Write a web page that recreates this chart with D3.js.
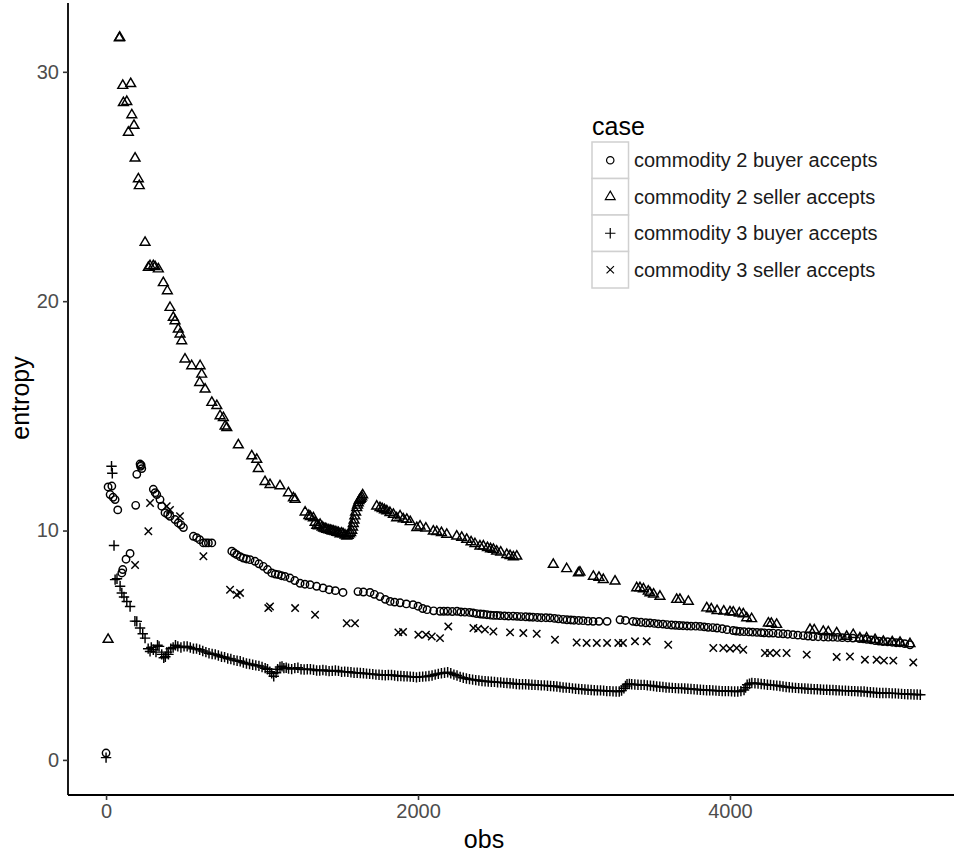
<!DOCTYPE html>
<html>
<head>
<meta charset="utf-8">
<script src="https://cdn.jsdelivr.net/npm/d3@7"></script>
<style>
  body { margin: 0; background: #fff; }
  svg { display: block; font-family: "Liberation Sans", Arial, sans-serif; }
</style>
</head>
<body>
<div id="chart"></div>
<script>
// categories (legend order)
const cases = [
  "commodity 2 buyer accepts",
  "commodity 2 seller accepts",
  "commodity 3 buyer accepts",
  "commodity 3 seller accepts"
];

// tick values
const xTicks = [0, 2000, 4000];
const yTicks = [0, 10, 20, 30];

// [obs, entropy]
const c2Buyer = [
  [0,0.3],[13,11.9],[26,11.57],[37,11.94],[45,11.45],[58,11.35],[75,10.9],[101,8.15],[107,8.3],[128,8.75],[154,9.0],
  [190,11.1],[197,12.45],[218,12.9],[221,12.8],[229,12.7],[225,12.85],
  [303,11.8],[315,11.65],[325,11.57],[346,11.35],[357,11.06],[378,10.78],[395,10.7],[410,10.62],[442,10.48],[463,10.33],
  [480,10.25],[496,10.13],[560,9.75],[581,9.69],[600,9.6],[624,9.46],[640,9.46],[656,9.46],[678,9.46],
  [806,9.1],[822,9.02],[838,8.95],[860,8.86],[880,8.8],[900,8.76],[923,8.73],[955,8.66],[980,8.55],[1008,8.44],[1035,8.3],
  [1062,8.15],[1085,8.1],[1105,8.08],[1125,8.03],[1147,8.0],[1179,7.93],[1210,7.82],[1244,7.7],[1275,7.66],[1308,7.64],
  [1350,7.57],[1391,7.5],[1430,7.42],[1470,7.38],[1519,7.3],
  [1615,7.34],[1650,7.32],[1692,7.3],[1720,7.22],[1756,7.12],[1790,7.0],[1821,6.91],[1850,6.88],[1885,6.85],[1925,6.8],[1968,6.77],
  [2000,6.7],[2030,6.6],
  [2058,6.55],[2100,6.5],[2141,6.48],[2165,6.48],[2190,6.48],[2220,6.47],[2250,6.48],[2275,6.45],[2300,6.44],[2330,6.43],
  [2353,6.41],[2375,6.38],[2400,6.36],[2420,6.35],[2442,6.33],[2465,6.31],[2485,6.3],[2505,6.3],[2526,6.29],[2555,6.28],
  [2580,6.27],[2610,6.27],[2635,6.26],[2660,6.25],[2690,6.24],[2715,6.23],[2737,6.22],[2765,6.21],[2790,6.2],[2820,6.2],
  [2846,6.19],[2875,6.17],[2900,6.15],[2930,6.13],[2955,6.11],[2980,6.1],[3000,6.09],[3030,6.08],
  [3058,6.07],[3090,6.05],[3122,6.04],[3160,6.04],[3212,6.04],
  [3295,6.11],[3330,6.08],[3378,6.04],[3400,6.02],[3430,6.0],[3460,5.98],[3487,5.97],[3515,5.95],[3540,5.93],[3570,5.92],
  [3596,5.9],[3625,5.88],[3650,5.87],[3675,5.86],[3699,5.85],[3725,5.84],[3750,5.83],[3780,5.83],[3808,5.82],[3835,5.8],
  [3860,5.78],[3890,5.77],[3917,5.75],[3950,5.72],[3981,5.68],[4020,5.64],[4040,5.62],[4064,5.6],[4090,5.59],[4120,5.58],
  [4145,5.57],[4173,5.56],[4200,5.55],[4220,5.54],[4250,5.53],[4276,5.53],[4310,5.51],[4340,5.5],[4370,5.48],[4404,5.46],
  [4435,5.44],[4470,5.42],[4500,5.4],[4532,5.38],[4565,5.37],[4600,5.36],[4630,5.35],[4660,5.35],[4690,5.34],[4720,5.33],
  [4755,5.32],[4788,5.31],[4830,5.29],[4855,5.28],[4878,5.26],[4905,5.23],[4930,5.2],[4955,5.18],[4981,5.16],[5010,5.15],
  [5040,5.13],[5065,5.11],[5090,5.1],[5120,5.07],[5154,5.02]
];

const c2Seller = [
  [13,5.25],[85,31.47],[88,31.5],[107,29.4],[158,29.48],[111,28.65],[133,28.7],[165,28.12],[179,27.66],[143,27.36],
  [186,26.23],[207,25.33],[213,25.03],[250,22.56],[271,21.47],[282,21.54],[303,21.54],[314,21.5],[335,21.4],[367,20.8],
  [393,20.45],[410,19.72],[431,19.29],[442,19.14],[463,18.78],[474,18.56],[485,18.27],[506,17.47],[549,17.18],[603,17.18],
  [613,16.81],[600,16.45],[635,16.16],[678,15.58],[710,15.44],[731,15.0],[752,14.92],[763,14.55],[774,14.48],[848,13.73],
  [934,13.25],[966,13.1],[976,12.7],[1019,12.13],[1051,12.0],[1115,11.94],[1169,11.64],[1201,11.42],[1212,11.35],[1276,10.8],
  [1300,10.65],[1310,10.6],[1329,10.55],[1340,10.35],[1351,10.22],[1362,10.2],[1372,10.26],[1385,10.15],[1395,10.1],
  [1405,10.08],[1415,10.05],[1428,10.02],[1440,10.0],[1448,9.98],[1457,9.97],[1468,9.95],[1480,9.92],[1490,9.9],[1500,9.85],
  [1510,9.88],[1520,9.85],[1532,9.8],[1543,9.75],[1552,9.78],[1560,9.85],[1568,9.9],[1575,10.0],[1580,10.15],[1585,10.3],
  [1590,10.45],[1595,10.63],[1600,10.8],[1607,10.99],[1612,11.1],[1617,11.2],[1622,11.3],[1628,11.35],[1633,11.4],[1639,11.46],
  [1645,11.55],
  [1735,11.06],[1756,10.99],[1770,10.95],[1785,10.9],[1800,10.85],[1820,10.78],[1842,10.7],[1863,10.55],[1885,10.63],[1905,10.5],
  [1928,10.48],[1950,10.38],[1992,10.12],[2013,10.19],[2050,10.1],[2098,9.97],[2120,9.95],[2150,9.9],[2184,9.83],[2248,9.75],
  [2280,9.7],[2312,9.61],[2340,9.5],[2365,9.42],[2397,9.32],[2419,9.32],[2445,9.25],[2465,9.2],[2483,9.17],[2504,9.1],
  [2530,9.05],[2569,8.95],[2590,8.9],[2611,8.85],[2633,8.88],
  [2867,8.52],[2953,8.33],[3028,8.15],[3038,8.18],[3124,8.0],[3160,7.95],[3188,7.86],[3263,7.79],[3402,7.5],[3423,7.5],
  [3445,7.45],[3476,7.35],[3487,7.28],[3510,7.22],[3551,7.13],[3658,6.99],[3679,6.99],[3733,6.91],[3851,6.62],[3880,6.58],
  [3917,6.5],[3960,6.48],[4000,6.45],[4021,6.44],[4060,6.4],[4085,6.36],[4107,6.19],[4139,6.15],[4246,5.96],[4265,5.95],
  [4299,5.9],[4513,5.68],[4540,5.66],[4598,5.6],[4630,5.58],[4684,5.53],[4748,5.38],[4790,5.46],[4833,5.31],[4876,5.31],
  [4930,5.24],[4983,5.16],[5040,5.14],[5090,5.12],[5154,5.06]
];

const c3Buyer = [
  [0,0.1],[35,12.8],[40,12.5],[51,9.35],[58,7.86],[70,7.9],[90,7.57],[101,7.28],[115,7.1],[133,6.91],[154,6.69],[185,6.05],
  [197,6.04],[218,5.75],[235,5.5],[250,5.31],[270,4.85],[282,4.73],[290,4.9],[303,4.8],[320,4.7],[330,5.0],[340,4.95],
  [357,4.6],[370,4.45],[380,4.5],[390,4.7],[400,4.6],[415,4.85],[430,4.9],[445,5.0],[460,4.95],[480,4.9],[500,4.95],
  [520,4.95],[540,4.9],[560,4.85],[580,4.85],[600,4.8],[620,4.75],[640,4.7],[660,4.65],[680,4.62],[700,4.6],[720,4.55],
  [740,4.5],[760,4.48],[780,4.42],[800,4.4],[820,4.35],[840,4.32],[860,4.3],[880,4.25],[900,4.2],[920,4.18],[940,4.15],
  [960,4.12],[980,4.1],[1000,4.05],[1020,4.0],[1035,3.95],[1050,3.85],[1062,3.78],[1075,3.65],[1090,3.8],[1100,3.95],
  [1115,4.05],[1128,4.08],[1140,4.0],[1155,4.02],[1170,3.98],[1190,3.96],[1210,4.0],[1230,4.02],[1250,3.95],[1270,3.94],
  [1290,3.95],[1310,3.95],[1330,3.93],[1350,3.9],[1370,3.9],[1390,3.92],[1410,3.9],[1430,3.87],[1450,3.88],[1470,3.9],
  [1490,3.88],[1510,3.84],[1530,3.85],[1550,3.84],[1570,3.82],[1590,3.8],[1610,3.8],[1630,3.79],[1650,3.78],[1670,3.76],
  [1690,3.75],[1710,3.74],[1730,3.72],[1750,3.71],[1770,3.7],[1790,3.69],[1810,3.7],[1830,3.7],[1850,3.68],[1870,3.66],
  [1890,3.66],[1910,3.65],[1930,3.64],[1950,3.63],[1970,3.62],[1990,3.6],[2010,3.62],[2030,3.63],[2050,3.64],[2070,3.66],
  [2090,3.68],[2110,3.72],[2130,3.75],[2150,3.78],[2170,3.8],[2190,3.82],[2210,3.78],[2230,3.72],[2250,3.68],[2270,3.62],
  [2290,3.58],[2310,3.55],[2330,3.52],[2350,3.5],[2370,3.48],[2390,3.46],[2410,3.44],[2430,3.43],[2450,3.42],[2470,3.41],
  [2490,3.4],[2510,3.38],[2530,3.38],[2550,3.36],[2570,3.35],[2590,3.34],[2610,3.33],[2630,3.31],[2650,3.3],[2670,3.3],
  [2690,3.3],[2710,3.29],[2730,3.28],[2750,3.27],[2770,3.26],[2790,3.25],[2810,3.25],[2830,3.23],[2850,3.22],[2870,3.21],
  [2890,3.2],[2910,3.18],[2930,3.16],[2950,3.15],[2970,3.14],[2990,3.12],[3010,3.1],[3030,3.09],[3050,3.08],[3070,3.07],
  [3090,3.06],[3110,3.05],[3130,3.04],[3150,3.03],[3170,3.03],[3190,3.02],[3210,3.0],[3230,3.0],[3250,2.99],[3270,2.98],
  [3290,2.98],[3305,3.02],[3320,3.12],[3330,3.22],[3340,3.3],[3355,3.31],[3370,3.3],[3390,3.29],[3410,3.28],[3430,3.27],
  [3450,3.27],[3470,3.25],[3490,3.24],[3510,3.22],[3530,3.2],[3550,3.19],[3570,3.18],[3590,3.16],[3610,3.15],[3630,3.14],
  [3650,3.13],[3670,3.12],[3690,3.12],[3710,3.11],[3730,3.1],[3750,3.09],[3770,3.08],[3790,3.07],[3810,3.06],[3830,3.05],
  [3850,3.04],[3870,3.04],[3890,3.03],[3910,3.02],[3930,3.01],[3950,3.0],[3970,3.0],[3990,3.0],[4010,2.99],[4030,2.98],
  [4050,2.98],[4070,3.0],[4090,3.05],[4100,3.15],[4110,3.28],[4125,3.32],[4140,3.35],[4160,3.34],[4180,3.33],[4200,3.31],
  [4220,3.3],[4240,3.28],[4260,3.27],[4280,3.25],[4300,3.24],[4320,3.22],[4340,3.2],[4360,3.18],[4380,3.17],[4400,3.15],
  [4420,3.14],[4440,3.13],[4460,3.12],[4480,3.11],[4500,3.1],[4520,3.09],[4540,3.08],[4560,3.08],[4580,3.07],[4600,3.06],
  [4620,3.06],[4640,3.05],[4660,3.05],[4680,3.04],[4700,3.03],[4720,3.02],[4740,3.02],[4760,3.01],[4780,3.0],[4800,3.0],
  [4820,2.99],[4840,2.98],[4860,2.98],[4880,2.96],[4900,2.95],[4920,2.94],[4940,2.93],[4960,2.92],[4980,2.92],[5000,2.92],
  [5020,2.91],[5040,2.9],[5060,2.9],[5080,2.89],[5100,2.88],[5120,2.87],[5140,2.86],[5160,2.86],[5180,2.85],[5200,2.85],
  [5220,2.84]
];

const c3Seller = [
  [186,8.5],[271,9.97],[282,11.2],[389,11.06],[410,10.9],[474,10.63],[624,8.88],[795,7.42],[838,7.2],[859,7.28],
  [1040,6.62],[1051,6.69],[1212,6.62],[1340,6.33],[1543,5.96],[1596,5.96],[1874,5.56],[1904,5.58],[2002,5.46],[2051,5.46],
  [2088,5.38],[2141,5.31],[2194,5.82],[2355,5.75],[2385,5.72],[2429,5.68],[2483,5.6],[2590,5.56],[2675,5.53],[2761,5.5],
  [2878,5.24],[3017,5.12],[3081,5.1],[3146,5.1],[3212,5.1],[3284,5.1],[3314,5.1],[3391,5.17],[3466,5.17],[3604,5.02],
  [3893,4.88],[3957,4.88],[4000,4.85],[4043,4.88],[4085,4.8],[4224,4.66],[4256,4.66],[4299,4.66],[4363,4.66],[4492,4.59],
  [4684,4.49],[4769,4.51],[4865,4.37],[4940,4.37],[4987,4.33],[5047,4.33],[5175,4.25]
];

const seriesValues = [c2Buyer, c2Seller, c3Buyer, c3Seller];

//---------------------------------------------------------------------------------------

const width = 954;
const height = 854;

const svg = d3.select("#chart")
  .append("svg")
  .attr("width", width)
  .attr("height", height);

const x = d3.scaleLinear().domain([-244, 5481]).range([68, 961]);
const y = d3.scaleLinear().domain([-1.53, 33.0]).range([795, 3]);

// point shapes (open circle, open triangle, plus, cross)
const shapeScale = d3.scaleOrdinal().domain(cases).range(["circle", "triangle", "plus", "cross"]);

function drawShape(sel, kind) {
  if (kind === "circle") {
    sel.append("circle").attr("r", 3.7);
  } else if (kind === "triangle") {
    sel.append("path").attr("d", "M0,-5.6L4.9,2.8L-4.9,2.8Z");
  } else if (kind === "plus") {
    sel.append("path").attr("d", "M-5.2,0H5.2M0,-5.2V5.2");
  } else {
    sel.append("path").attr("d", "M-3.7,-3.7L3.7,3.7M-3.7,3.7L3.7,-3.7");
  }
}

// points
const plot = svg.append("g");
cases.forEach((c, i) => {
  const g = plot.append("g")
    .attr("fill", "none")
    .attr("stroke", "#000")
    .attr("stroke-width", 1.45);
  g.selectAll("g")
    .data(seriesValues[i])
    .join("g")
    .attr("transform", d => `translate(${x(d[0])},${y(d[1])})`)
    .each(function () { drawShape(d3.select(this), shapeScale(c)); });
});

// axes
const xAxis = svg.append("g")
  .attr("transform", "translate(0,795)")
  .call(d3.axisBottom(x).tickValues(xTicks).tickSize(5).tickPadding(4).tickFormat(d3.format("d")));
const yAxis = svg.append("g")
  .attr("transform", "translate(68,0)")
  .call(d3.axisLeft(y).tickValues(yTicks).tickSize(5).tickPadding(4));

[xAxis, yAxis].forEach(a => {
  a.select(".domain").attr("stroke", "#000").attr("stroke-width", 1.8);
  a.selectAll(".tick line").attr("stroke", "#333").attr("stroke-width", 1.6);
  a.selectAll(".tick text")
    .attr("fill", "#4d4d4d")
    .attr("font-size", 20)
    .attr("font-family", "Liberation Sans, Arial, sans-serif");
});
xAxis.select(".domain").attr("d", "M68,0H961");
yAxis.select(".domain").attr("d", "M0,3V795");

// axis titles
svg.append("text")
  .attr("x", 484).attr("y", 848)
  .attr("text-anchor", "middle")
  .attr("font-size", 25)
  .text("obs");

svg.append("text")
  .attr("transform", "translate(29,398) rotate(-90)")
  .attr("text-anchor", "middle")
  .attr("font-size", 25)
  .text("entropy");

// legend
const legend = svg.append("g").attr("transform", "translate(592,142)");
legend.append("text")
  .attr("x", 0).attr("y", -7)
  .attr("font-size", 25)
  .text("case");

const keys = legend.selectAll(".key")
  .data(cases)
  .join("g")
  .attr("class", "key")
  .attr("transform", (d, i) => `translate(0,${i * 36.5})`);

keys.append("rect")
  .attr("width", 36.5).attr("height", 36.5)
  .attr("fill", "#fff")
  .attr("stroke", "#d0d0d0")
  .attr("stroke-width", 1.5);

keys.append("g")
  .attr("transform", "translate(18.25,18.25)")
  .attr("fill", "none")
  .attr("stroke", "#000")
  .attr("stroke-width", 1.2)
  .each(function (d) { drawShape(d3.select(this), shapeScale(d)); });

keys.append("text")
  .attr("x", 42).attr("y", 18.25)
  .attr("dy", "0.35em")
  .attr("font-size", 20)
  .attr("fill", "#1a1a1a")
  .text(d => d);
</script>
</body>
</html>
